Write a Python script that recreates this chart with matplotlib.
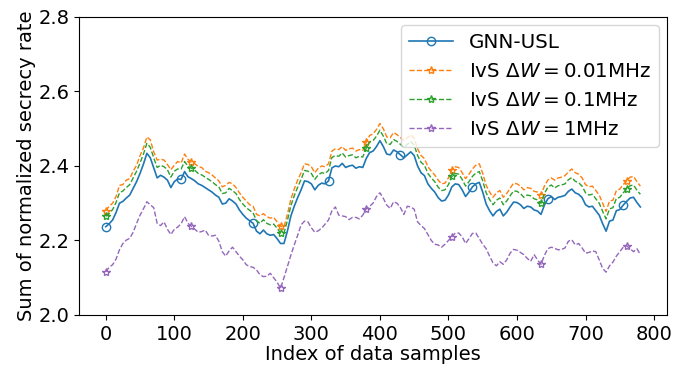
import matplotlib
matplotlib.use("Agg")
import matplotlib.pyplot as plt
import numpy as np

# sample index (every 5th sample)
idx = np.arange(0, 781, 5)

gnn_usl = [
    2.237, 2.245, 2.255, 2.275, 2.300, 2.305, 2.314, 2.322, 2.340, 2.358,
    2.380, 2.405, 2.434, 2.422, 2.395, 2.368, 2.375, 2.370, 2.362, 2.342,
    2.358, 2.365, 2.364, 2.385, 2.371, 2.366, 2.360, 2.352, 2.348, 2.342,
    2.336, 2.330, 2.322, 2.316, 2.298, 2.300, 2.312, 2.306, 2.298, 2.282,
    2.270, 2.260, 2.253, 2.246, 2.225, 2.218, 2.228, 2.218, 2.214, 2.216,
    2.205, 2.192, 2.192, 2.225, 2.265, 2.292, 2.315, 2.336, 2.360, 2.358,
    2.352, 2.336, 2.348, 2.354, 2.352, 2.360, 2.395, 2.400, 2.398, 2.407,
    2.396, 2.400, 2.402, 2.394, 2.398, 2.396, 2.420, 2.436, 2.440, 2.452,
    2.468, 2.452, 2.432, 2.430, 2.443, 2.438, 2.430, 2.422, 2.430, 2.438,
    2.428, 2.400, 2.382, 2.374, 2.352, 2.340, 2.330, 2.315, 2.306, 2.308,
    2.322, 2.344, 2.352, 2.350, 2.336, 2.318, 2.330, 2.344, 2.352, 2.356,
    2.330, 2.298, 2.280, 2.266, 2.278, 2.284, 2.266, 2.276, 2.290, 2.303,
    2.302, 2.296, 2.286, 2.292, 2.290, 2.282, 2.279, 2.270, 2.295, 2.312,
    2.318, 2.310, 2.316, 2.318, 2.321, 2.332, 2.338, 2.328, 2.324, 2.315,
    2.296, 2.290, 2.292, 2.280, 2.268, 2.245, 2.225, 2.252, 2.255, 2.280,
    2.283, 2.295, 2.305, 2.314, 2.316, 2.302, 2.290,
]

ivs_001 = [
    2.280, 2.292, 2.300, 2.318, 2.348, 2.350, 2.362, 2.366, 2.386, 2.402,
    2.428, 2.448, 2.478, 2.470, 2.438, 2.416, 2.418, 2.416, 2.404, 2.390,
    2.402, 2.412, 2.408, 2.432, 2.418, 2.410, 2.406, 2.398, 2.396, 2.386,
    2.382, 2.376, 2.368, 2.360, 2.344, 2.348, 2.356, 2.352, 2.342, 2.328,
    2.316, 2.306, 2.296, 2.292, 2.270, 2.266, 2.272, 2.264, 2.260, 2.262,
    2.250, 2.238, 2.236, 2.270, 2.310, 2.338, 2.362, 2.382, 2.406, 2.404,
    2.398, 2.382, 2.394, 2.400, 2.398, 2.406, 2.440, 2.446, 2.444, 2.452,
    2.442, 2.446, 2.448, 2.440, 2.444, 2.442, 2.464, 2.482, 2.486, 2.498,
    2.514, 2.500, 2.478, 2.476, 2.490, 2.484, 2.476, 2.468, 2.476, 2.484,
    2.474, 2.446, 2.428, 2.420, 2.398, 2.386, 2.376, 2.362, 2.352, 2.354,
    2.368, 2.390, 2.398, 2.396, 2.382, 2.366, 2.378, 2.392, 2.402, 2.406,
    2.380, 2.348, 2.330, 2.316, 2.328, 2.334, 2.316, 2.326, 2.340, 2.354,
    2.352, 2.346, 2.336, 2.342, 2.340, 2.332, 2.330, 2.322, 2.346, 2.362,
    2.368, 2.362, 2.368, 2.370, 2.374, 2.384, 2.392, 2.382, 2.378, 2.368,
    2.350, 2.344, 2.346, 2.334, 2.322, 2.300, 2.278, 2.306, 2.308, 2.334,
    2.338, 2.350, 2.360, 2.370, 2.372, 2.358, 2.346,
]

ivs_01 = [
    2.265, 2.272, 2.283, 2.302, 2.328, 2.333, 2.342, 2.350, 2.368, 2.386,
    2.408, 2.432, 2.461, 2.450, 2.422, 2.396, 2.402, 2.398, 2.390, 2.370,
    2.386, 2.392, 2.392, 2.412, 2.399, 2.394, 2.388, 2.380, 2.376, 2.370,
    2.364, 2.358, 2.350, 2.344, 2.326, 2.328, 2.340, 2.334, 2.326, 2.310,
    2.298, 2.288, 2.281, 2.274, 2.253, 2.246, 2.256, 2.246, 2.242, 2.244,
    2.233, 2.220, 2.220, 2.253, 2.293, 2.320, 2.343, 2.364, 2.388, 2.386,
    2.380, 2.364, 2.376, 2.382, 2.380, 2.388, 2.423, 2.428, 2.426, 2.435,
    2.424, 2.428, 2.430, 2.422, 2.426, 2.424, 2.448, 2.464, 2.468, 2.480,
    2.496, 2.480, 2.460, 2.458, 2.471, 2.466, 2.458, 2.450, 2.458, 2.466,
    2.456, 2.428, 2.410, 2.402, 2.380, 2.368, 2.358, 2.343, 2.334, 2.336,
    2.350, 2.372, 2.380, 2.378, 2.364, 2.346, 2.358, 2.372, 2.381, 2.385,
    2.360, 2.328, 2.310, 2.296, 2.308, 2.314, 2.296, 2.306, 2.320, 2.333,
    2.332, 2.326, 2.316, 2.322, 2.320, 2.312, 2.309, 2.300, 2.326, 2.343,
    2.349, 2.341, 2.347, 2.349, 2.352, 2.363, 2.369, 2.359, 2.355, 2.346,
    2.328, 2.322, 2.324, 2.312, 2.300, 2.278, 2.258, 2.285, 2.288, 2.313,
    2.316, 2.328, 2.338, 2.347, 2.349, 2.335, 2.324,
]

ivs_1 = [
    2.116, 2.128, 2.135, 2.150, 2.175, 2.192, 2.201, 2.206, 2.222, 2.246,
    2.268, 2.285, 2.304, 2.296, 2.288, 2.246, 2.240, 2.250, 2.230, 2.216,
    2.230, 2.236, 2.245, 2.264, 2.246, 2.238, 2.230, 2.222, 2.224, 2.228,
    2.214, 2.212, 2.214, 2.198, 2.170, 2.158, 2.172, 2.182, 2.170, 2.158,
    2.148, 2.135, 2.130, 2.128, 2.121, 2.108, 2.103, 2.104, 2.112, 2.100,
    2.088, 2.072, 2.100, 2.130, 2.160, 2.188, 2.214, 2.242, 2.252, 2.250,
    2.234, 2.222, 2.226, 2.233, 2.244, 2.255, 2.280, 2.290, 2.268, 2.266,
    2.264, 2.256, 2.262, 2.262, 2.258, 2.268, 2.285, 2.292, 2.300, 2.318,
    2.328, 2.313, 2.295, 2.286, 2.304, 2.300, 2.288, 2.270, 2.292, 2.290,
    2.284, 2.250, 2.240, 2.232, 2.216, 2.200, 2.190, 2.188, 2.182, 2.190,
    2.200, 2.210, 2.220, 2.220, 2.210, 2.192, 2.205, 2.219, 2.220, 2.205,
    2.190, 2.178, 2.158, 2.140, 2.132, 2.143, 2.136, 2.148, 2.166, 2.176,
    2.174, 2.168, 2.162, 2.152, 2.144, 2.162, 2.148, 2.136, 2.160, 2.178,
    2.182, 2.179, 2.175, 2.176, 2.180, 2.198, 2.202, 2.188, 2.192, 2.180,
    2.166, 2.168, 2.172, 2.170, 2.148, 2.125, 2.115, 2.132, 2.142, 2.158,
    2.170, 2.182, 2.186, 2.178, 2.170, 2.178, 2.162,
]

fig = plt.figure(figsize=(6.83, 3.73), dpi=100)
ax = fig.add_axes([0.1157, 0.1555, 0.861, 0.799])

circ_marks = [0, 22, 43, 65, 86, 107, 129, 151]
star_marks = [0, 25, 51, 76, 101, 127, 152]

ax.plot(idx, gnn_usl, '-', color='tab:blue', lw=1.2, marker='o', ms=6,
        mfc='none', markevery=circ_marks, label='GNN-USL')
ax.plot(idx, ivs_001, '--', color='tab:orange', lw=1.0, marker='*', ms=6,
        mfc='none', markevery=star_marks, label=r'IvS $\Delta W = 0.01$MHz')
ax.plot(idx, ivs_01, '--', color='tab:green', lw=1.0, marker='*', ms=6,
        mfc='none', markevery=star_marks, label=r'IvS $\Delta W = 0.1$MHz')
ax.plot(idx, ivs_1, '--', color='tab:purple', lw=1.0, marker='*', ms=6,
        mfc='none', markevery=star_marks, label=r'IvS $\Delta W = 1$MHz')

ax.set_ylim(2.0, 2.8)
ax.set_yticks([2.0, 2.2, 2.4, 2.6, 2.8])
ax.set_xticks(range(0, 801, 100))
ax.tick_params(labelsize=14)
ax.set_xlabel('Index of data samples', fontsize=14, labelpad=1)
ax.set_ylabel('Sum of normalized secrecy rate', fontsize=14, labelpad=2)
ax.legend(loc='upper right', fontsize=14.3, labelspacing=0.5,
          handlelength=2.2, handletextpad=0.8, borderaxespad=0.4)

plt.savefig('out.png', dpi=100)
plt.close()
